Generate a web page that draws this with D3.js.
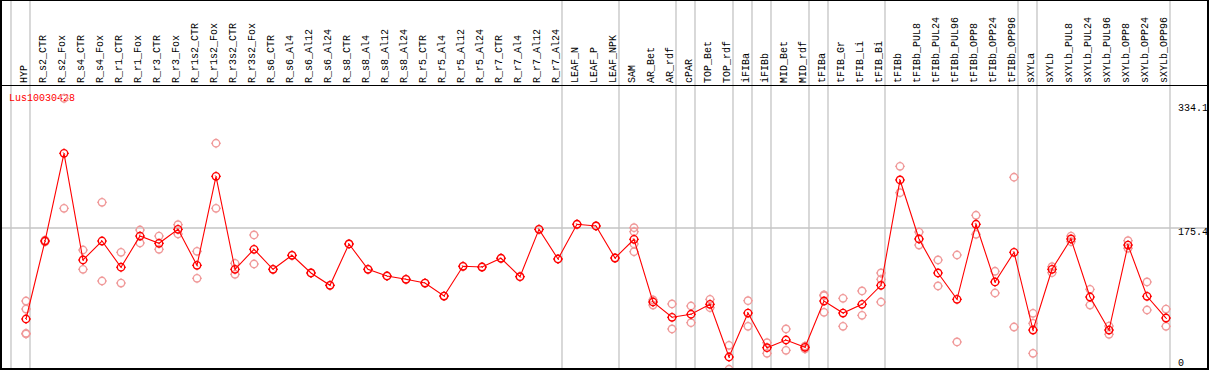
<!DOCTYPE html>
<meta charset="utf-8">
<head>
    <title>Lus10030428</title>
</head>
<style>
 body { margin: 0; background: white; }
 text { font-family: "Liberation Mono", "DejaVu Sans Mono", monospace; font-size: 10px; }
 .sep { stroke: #c4c4c4; stroke-width: 1.3px; }
 .frame { stroke: black; fill: none; }
 .trend { fill: none; stroke: red; stroke-width: 1.1px; }
</style>
<body>
    <div id="chart"></div>
    <script src="https://d3js.org/d3.v7.min.js"></script>
    <script>

     var gene = "Lus10030428";

     var samples = ["HYP", "R_s2_CTR", "R_s2_Fox", "R_s4_CTR", "R_s4_Fox", "R_r1_CTR",
                    "R_r1_Fox", "R_r3_CTR", "R_r3_Fox", "R_r1s2_CTR", "R_r1s2_Fox",
                    "R_r3s2_CTR", "R_r3s2_Fox", "R_s6_CTR", "R_s6_Al4", "R_s6_Al12",
                    "R_s6_Al24", "R_s8_CTR", "R_s8_Al4", "R_s8_Al12", "R_s8_Al24",
                    "R_r5_CTR", "R_r5_Al4", "R_r5_Al12", "R_r5_Al24", "R_r7_CTR",
                    "R_r7_Al4", "R_r7_Al12", "R_r7_Al24", "LEAF_N", "LEAF_P", "LEAF_NPK",
                    "SAM", "AR_Bet", "AR_rdf", "cPAR", "TOP_Bet", "TOP_rdf", "iFIBa",
                    "iFIBb", "MID_Bet", "MID_rdf", "tFIBa", "tFIB_Gr", "tFIB_Li", "tFIB_Bi",
                    "tFIBb", "tFIBb_PUL8", "tFIBb_PUL24", "tFIBb_PUL96", "tFIBb_OPP8",
                    "tFIBb_OPP24", "tFIBb_OPP96", "sXYLa", "sXYLb", "sXYLb_PUL8",
                    "sXYLb_PUL24", "sXYLb_PUL96", "sXYLb_OPP8", "sXYLb_OPP24", "sXYLb_OPP96"];

     // number of samples in each group, a grey rule follows every group
     var groupSizes = [1, 28, 3, 3, 1, 2, 1, 1, 2, 1, 3, 7, 1, 7];

     var means = [64.1, 159.5, 266.8, 136.3, 159.5, 127.4, 165.6, 156.7, 173.8, 129.8,
                  238.7, 124.9, 149.4, 124.9, 142.0, 120.4, 105.3, 155.9, 124.9, 116.7,
                  112.7, 108.1, 92.2, 128.6, 127.7, 138.4, 115.9, 173.8, 137.5, 180.0,
                  177.9, 138.7, 161.6, 84.9, 66.2, 69.9, 82.1, 17.6, 71.4, 29.0,
                  38.4, 29.5, 86.1, 71.4, 82.1, 105.3, 234.2, 162.0, 120.4, 88.2,
                  180.0, 109.4, 145.7, 50.6, 124.9, 162.0, 91.0, 50.6, 154.6, 91.9, 65.3];

     var replicates = [
         [86.1, 76.3, 46.6, 45.8], [158.5, 160.5], [334.1, 199.5], [148.5, 124.9],
         [206.9, 110.6], [145.7, 108.1], [173.0, 157.1], [165.6, 149.4], [179.5, 168.1],
         [146.9, 113.9], [279.1, 199.5], [132.2, 118.8], [166.9, 131.4], [124.9],
         [142.0], [120.4], [105.3], [155.9], [124.9], [116.7], [112.7], [108.1], [92.2],
         [128.6], [127.7], [138.4], [115.9], [173.8], [137.5], [180.0], [177.9], [138.7],
         [175.8, 170.9, 155.9, 146.4], [87.4, 81.2], [82.5, 51.9], [80.0, 59.6],
         [88.2, 77.9], [31.9, 2.6], [86.5, 55.2], [35.1, 22.1], [51.9, 25.8], [31.0, 27.4],
         [92.6, 93.5, 72.3], [89.4, 55.2], [98.4, 68.6], [120.4, 112.7, 84.9],
         [250.9, 218.6], [170.5, 154.6], [136.3, 104.5], [142.4, 36.0], [191.0, 167.7],
         [122.5, 95.9], [237.5, 54.3], [71.1, 58.8, 22.1], [128.1, 120.8], [165.6, 158.7],
         [100.4, 81.2], [55.5, 45.4], [159.9, 150.6], [109.4, 75.1], [76.3, 55.2]];

     var yTicks = [0, 175.4, 334.1];
     var refValue = 175.4;

     var width = 1209,
         height = 370;

     var svg = d3.select("#chart").append("svg")
                 .attr("width", width)
                 .attr("height", height);

     var x = d3.scaleBand()
               .domain(samples)
               .range([11, 1170])
               .paddingInner(0)
               .paddingOuter(0);

     var y = d3.scaleLinear()
               .domain([0, d3.max(yTicks)])
               .range([371.4, 98.3]);

     function px(d) { return x(d) + 15; }

     // grey separators, full height
     var bounds = [0];
     groupSizes.reduce(function(acc, n) { bounds.push(acc + n); return acc + n; }, 0);

     svg.append("g")
        .selectAll("line")
        .data(bounds)
        .enter()
        .append("line")
        .attr("class", "sep")
        .attr("x1", function(i) { return i === 0 ? x.range()[0] : x(samples[i - 1]) + x.bandwidth(); })
        .attr("x2", function(i) { return i === 0 ? x.range()[0] : x(samples[i - 1]) + x.bandwidth(); })
        .attr("y1", 0)
        .attr("y2", height);

     svg.append("line")
        .attr("class", "sep")
        .attr("x1", 0)
        .attr("x2", width)
        .attr("y1", y(refValue))
        .attr("y2", y(refValue));

     // sample names
     svg.append("g")
        .selectAll("text")
        .data(samples)
        .enter()
        .append("text")
        .attr("transform", function(d) {
            return "translate(" + (px(d) + 1) + ",83) rotate(-90)";
        })
        .attr("fill", "black")
        .text(function(d) { return d; });

     svg.append("text")
        .attr("x", 9)
        .attr("y", 101)
        .attr("fill", "red")
        .text(gene);

     // value labels on the right
     svg.append("g")
        .selectAll("text")
        .data(yTicks)
        .enter()
        .append("text")
        .attr("x", 1178)
        .attr("y", function(d) {
            return Math.min(Math.max(y(d), 103.3), 358.7) + 7.2;
        })
        .attr("fill", "black")
        .text(function(d) { return d; });

     function marker(g, colour) {
         g.append("circle")
          .attr("r", 3.7)
          .attr("fill", "none")
          .attr("stroke", colour)
          .attr("stroke-width", 1.4);
         g.append("path")
          .attr("d", "M0,-5V-3.7M0,3.7V5M-5,0H-3.7M3.7,0H5")
          .attr("stroke", colour)
          .attr("stroke-width", 1);
     }

     var reps = [];
     samples.forEach(function(s, i) {
         replicates[i].forEach(function(v) { reps.push({ s: s, v: v }); });
     });

     svg.append("g")
        .selectAll("g")
        .data(reps)
        .enter()
        .append("g")
        .attr("transform", function(d) { return "translate(" + px(d.s) + "," + y(d.v) + ")"; })
        .each(function() { marker(d3.select(this), "#f09a9a"); });

     var line = d3.line()
                  .x(function(d, i) { return px(samples[i]); })
                  .y(function(d) { return y(d); });

     svg.append("path")
        .datum(means)
        .attr("class", "trend")
        .attr("d", line);

     var dots = svg.append("g")
                   .selectAll("g")
                   .data(means)
                   .enter()
                   .append("g")
                   .attr("transform", function(d, i) { return "translate(" + px(samples[i]) + "," + y(d) + ")"; })
                   .each(function() { marker(d3.select(this), "red"); });

     dots.append("path")
         .attr("d", "M-1,-1L1,1")
         .attr("stroke", "red")
         .attr("stroke-width", 0.8);

     // frame
     svg.append("line").attr("class", "frame").attr("x1", 0).attr("x2", width)
        .attr("y1", 0.5).attr("y2", 0.5).attr("stroke-width", 1);
     svg.append("line").attr("class", "frame").attr("x1", 0).attr("x2", width)
        .attr("y1", 85.5).attr("y2", 85.5).attr("stroke-width", 1);
     svg.append("line").attr("class", "frame").attr("x1", 0).attr("x2", width)
        .attr("y1", 369).attr("y2", 369).attr("stroke-width", 2);
     svg.append("line").attr("class", "frame").attr("x1", 1).attr("x2", 1)
        .attr("y1", 0).attr("y2", height).attr("stroke-width", 2);
     svg.append("line").attr("class", "frame").attr("x1", 1208).attr("x2", 1208)
        .attr("y1", 0).attr("y2", height).attr("stroke-width", 2);

    </script>
</body>
